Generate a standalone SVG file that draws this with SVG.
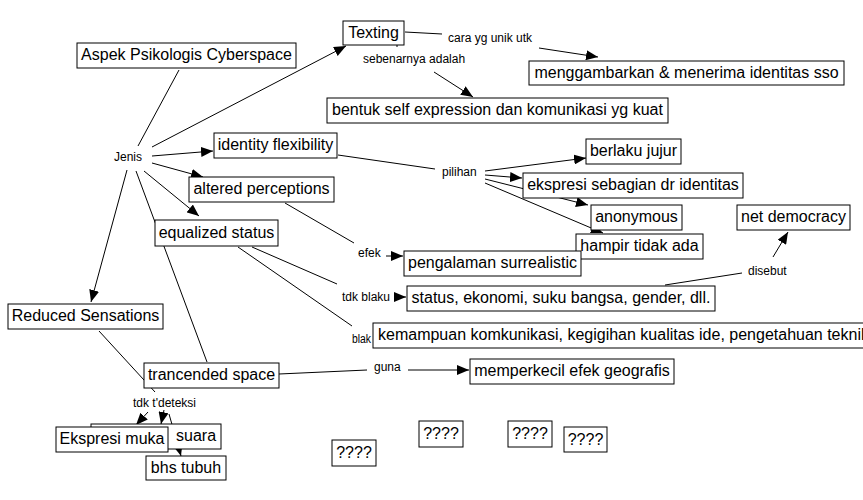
<svg xmlns="http://www.w3.org/2000/svg" width="863" height="500" viewBox="0 0 863 500">
<style>
.n rect{fill:#fff;stroke:#000;stroke-width:1}
.n text{font-family:"Liberation Sans",Arial,sans-serif;font-size:16px;fill:#000;text-anchor:middle}
.l{font-family:"Liberation Sans",Arial,sans-serif;font-size:12px;fill:#000}
#edges line{stroke:#000;stroke-width:1}
.ar{marker-end:url(#a)}
</style>
<defs>
<marker id="a" markerWidth="12" markerHeight="10" refX="12" refY="5" orient="auto" markerUnits="userSpaceOnUse"><path d="M0,0 L12,5 L0,10 z" fill="#000"/></marker>
</defs>
<rect width="863" height="500" fill="#fff"/>
<g id="edges">
<line x1="179" y1="70" x2="138" y2="146"/>
<line class="ar" x1="152" y1="147" x2="346" y2="46"/>
<line class="ar" x1="152" y1="156" x2="213" y2="151"/>
<line class="ar" x1="152" y1="163" x2="203" y2="177"/>
<line class="ar" x1="144" y1="171" x2="199" y2="216"/>
<line class="ar" x1="127" y1="170" x2="91" y2="302"/>
<line x1="136" y1="171" x2="207" y2="362"/>
<line x1="405" y1="32" x2="442" y2="34"/>
<line class="ar" x1="539" y1="48" x2="598" y2="57"/>
<line x1="397" y1="44" x2="397" y2="47"/>
<line class="ar" x1="434" y1="72" x2="473" y2="97"/>
<line x1="338" y1="155" x2="435" y2="169"/>
<line class="ar" x1="485" y1="171" x2="586" y2="158"/>
<line class="ar" x1="485" y1="175" x2="522" y2="178"/>
<line class="ar" x1="485" y1="179" x2="588" y2="205"/>
<line class="ar" x1="485" y1="183" x2="603" y2="233"/>
<line x1="285" y1="203" x2="354" y2="243"/>
<line class="ar" x1="386" y1="256" x2="403" y2="256"/>
<line x1="252" y1="247" x2="337" y2="284"/>
<line x1="238" y1="247" x2="352" y2="326"/>
<line class="ar" x1="394" y1="297" x2="406" y2="297"/>
<line x1="665" y1="285" x2="742" y2="273"/>
<line class="ar" x1="773" y1="257" x2="788" y2="232"/>
<line x1="279" y1="374" x2="367" y2="370"/>
<line class="ar" x1="408" y1="370" x2="469" y2="370"/>
<line x1="99" y1="331" x2="155" y2="392"/>
<line class="ar" x1="148" y1="412" x2="136" y2="425"/>
<line class="ar" x1="164" y1="410" x2="161" y2="424"/>
<line class="ar" x1="169" y1="414" x2="181" y2="456"/>
</g>
<g id="labels">
<text class="l" x="114" y="161">Jenis</text>
<text class="l" x="448" y="42">cara yg unik utk</text>
<text class="l" x="363" y="63">sebenarnya adalah</text>
<text class="l" x="442" y="176">pilihan</text>
<text class="l" x="358" y="257">efek</text>
<text class="l" x="342" y="301">tdk blaku</text>
<text class="l" x="352" y="343" textLength="19" lengthAdjust="spacingAndGlyphs">blak</text>
<text class="l" x="374" y="371">guna</text>
<text class="l" x="748" y="275">disebut</text>
<text class="l" x="133" y="407">tdk t'deteksi</text>
</g>
<g id="n-aspek" class="n"><rect x="77" y="43" width="219" height="25"/><text x="186.5" y="60">Aspek Psikologis Cyberspace</text></g>
<g id="n-texting" class="n"><rect x="343" y="21" width="61" height="24"/><text x="373.5" y="38">Texting</text></g>
<g id="n-mengg" class="n"><rect x="529" y="61" width="315" height="24"/><text x="686.5" y="78">menggambarkan &amp; menerima identitas sso</text></g>
<g id="n-bentuk" class="n"><rect x="327" y="98" width="341" height="25"/><text x="497.5" y="115">bentuk self expression dan komunikasi yg kuat</text></g>
<g id="n-idflex" class="n"><rect x="214" y="133" width="123" height="25"/><text x="275.5" y="150">identity flexibility</text></g>
<g id="n-altered" class="n"><rect x="189" y="177" width="145" height="25"/><text x="261.5" y="194">altered perceptions</text></g>
<g id="n-equal" class="n"><rect x="155" y="220" width="123" height="26"/><text x="216.5" y="238">equalized status</text></g>
<g id="n-berlaku" class="n"><rect x="586" y="139" width="95" height="25"/><text x="633.5" y="156">berlaku jujur</text></g>
<g id="n-ekspresi" class="n"><rect x="523" y="173" width="220" height="25"/><text x="633" y="190">ekspresi sebagian dr identitas</text></g>
<g id="n-anon" class="n"><rect x="591" y="205" width="91" height="25"/><text x="636.5" y="222">anonymous</text></g>
<g id="n-hampir" class="n"><rect x="576" y="234" width="127" height="25"/><text x="639.5" y="251">hampir tidak ada</text></g>
<g id="n-pengalaman" class="n"><rect x="404" y="251" width="177" height="25"/><text x="492.5" y="268">pengalaman surrealistic</text></g>
<g id="n-netdem" class="n"><rect x="737" y="205" width="113" height="25"/><text x="793.5" y="222">net democracy</text></g>
<g id="n-status" class="n"><rect x="407" y="286" width="308" height="25"/><text x="561" y="303">status, ekonomi, suku bangsa, gender, dll.</text></g>
<g id="n-kemampuan" class="n"><rect x="373" y="323" width="520" height="25"/><text x="378" y="340" style="text-anchor:start">kemampuan komkunikasi, kegigihan kualitas ide, pengetahuan teknik</text></g>
<g id="n-memperkecil" class="n"><rect x="470" y="359" width="204" height="25"/><text x="572" y="376">memperkecil efek geografis</text></g>
<g id="n-reduced" class="n"><rect x="8" y="304" width="155" height="25"/><text x="85.5" y="321">Reduced Sensations</text></g>
<g id="n-trancended" class="n"><rect x="144" y="363" width="135" height="25"/><text x="211.5" y="380">trancended space</text></g>
<g id="n-suara" class="n"><rect x="91" y="424" width="130" height="25"/><text x="176" y="441" style="text-anchor:start">suara</text></g>
<g id="n-muka" class="n"><rect x="56" y="427" width="112" height="25"/><text x="112" y="444">Ekspresi muka</text></g>
<g id="n-bhs" class="n"><rect x="146" y="456" width="80" height="24"/><text x="186" y="473">bhs tubuh</text></g>
<g id="n-q1" class="n"><rect x="332" y="440" width="44" height="26"/><text x="354" y="458">????</text></g>
<g id="n-q2" class="n"><rect x="419" y="421" width="44" height="26"/><text x="441" y="439">????</text></g>
<g id="n-q3" class="n"><rect x="508" y="421" width="44" height="26"/><text x="530" y="439">????</text></g>
<g id="n-q4" class="n"><rect x="564" y="427" width="43" height="25"/><text x="585.5" y="445">????</text></g>
</svg>
